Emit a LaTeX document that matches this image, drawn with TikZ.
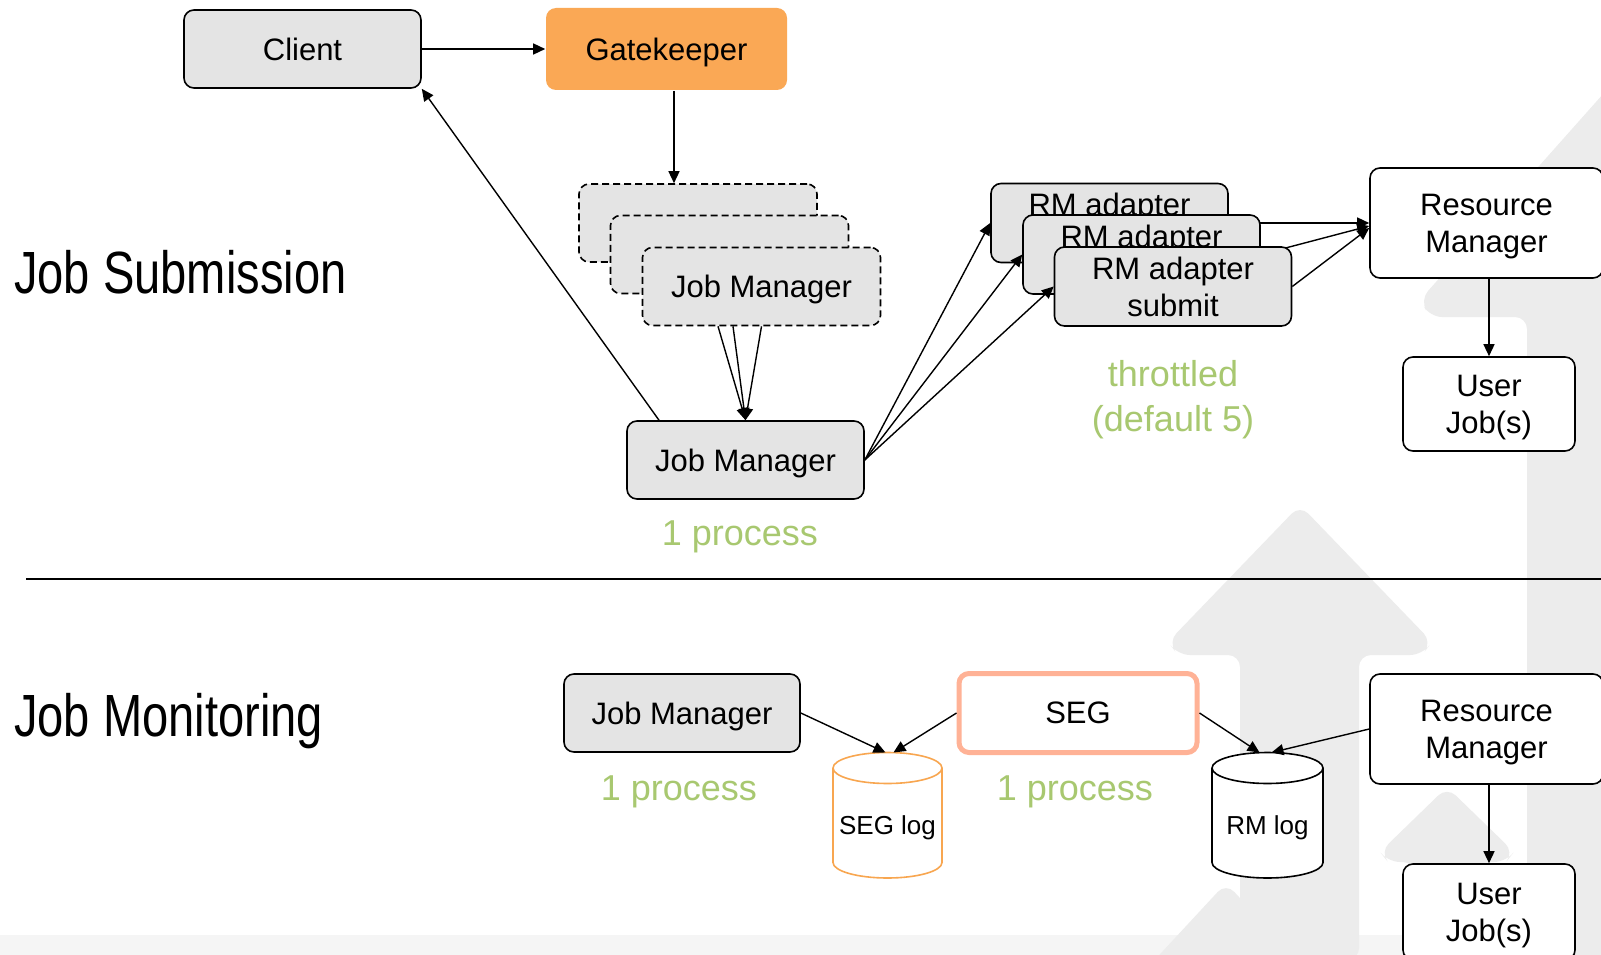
\documentclass[tikz,border=0pt]{standalone}
\usepackage{graphicx}
\usepackage{fontspec}
\setmainfont{Liberation Sans}
\usetikzlibrary{arrows.meta}

\definecolor{boxgray}{RGB}{228,228,228}
\definecolor{gkorange}{RGB}{250,168,85}
\definecolor{procgreen}{RGB}{168,200,112}
\definecolor{segsalmon}{RGB}{255,178,150}
\definecolor{logorange}{RGB}{248,166,80}
\definecolor{markgray}{RGB}{236,236,236}
\definecolor{footgray}{RGB}{245,245,245}

\newcommand{\fsz}[2]{\fontsize{#1}{#2}\selectfont}

\begin{document}
\begin{tikzpicture}[x=1pt,y=-1pt,
  procbox/.style={draw=black, line width=1.6pt, rounded corners=10pt, align=center,
                  inner sep=0pt, text depth=-4pt, font=\fsz{31}{37}},
  graybox/.style={procbox, fill=boxgray},
  whitebox/.style={procbox, fill=white},
  dashbox/.style={graybox, dash pattern=on 7pt off 4pt},
  conn/.style={line width=1.4pt, -{Triangle[length=12pt,width=11pt]}},
  greennote/.style={text=procgreen, font=\fsz{36}{45}, inner sep=0pt, align=center},
  heading/.style={font=\fsz{59.6}{70}, inner sep=0pt, anchor=base west},
  logtext/.style={font=\fsz{26}{30}, inner sep=0pt, text depth=0pt},
  backmark/.style={fill=markgray, rounded corners=12pt}
]
\useasboundingbox (0,0) rectangle (1601,955);
\fill[white] (0,0) rectangle (1601,955);

% slide background: footer band and faint upward arrows
\begin{scope}
  \clip (0,0) rectangle (1601,955);
  \fill[footgray] (0,935) rectangle (1601,955);
  \fill[backmark] (1660,30) -- (1420,300) -- (1430,317) -- (1527,317) -- (1527,960)
        -- (1660,960) -- cycle;
  \fill[backmark] (1300,505) -- (1168,642) -- (1178,655) -- (1240,655) -- (1240,960)
        -- (1359,960) -- (1359,655) -- (1422,655) -- (1432,642) -- cycle;
  \fill[backmark] (1447,787) -- (1380,852) -- (1388,862) -- (1415,862) -- (1415,960)
        -- (1480,960) -- (1480,862) -- (1506,862) -- (1514,852) -- cycle;
  \fill[backmark] (1226,883) -- (1150,965) -- (1302,965) -- cycle;
\end{scope}

% section headings and divider
\node[heading] (sub) at (14,293) {\scalebox{0.79}[1]{Job Submission}};
\node[heading] (mon) at (14,736) {\scalebox{0.79}[1]{Job Monitoring}};
\draw[line width=2.2pt] (26,579) -- (1601,579);

% ---------------- job submission ----------------
\node[graybox, minimum width=237pt, minimum height=78pt] (client) at (302.5,49) {Client};
\node[procbox, draw=none, fill=gkorange, minimum width=241pt, minimum height=82pt]
      (gate) at (666.5,49) {Gatekeeper};
\draw[conn] (client.east) -- (gate.west);

\node[dashbox, minimum width=238pt, minimum height=78pt] (jmA) at (698,223) {};
\node[dashbox, minimum width=238pt, minimum height=78pt] (jmB) at (729.5,254.5) {};
\node[dashbox, minimum width=238pt, minimum height=78pt] (jmC) at (761.5,286.5) {Job Manager};
\draw[conn] ([xshift=7.5pt]gate.south) -- ([xshift=7.5pt]gate.south |- jmA.north);

\node[graybox, minimum width=237pt, minimum height=78pt] (jm) at (745.5,460) {Job Manager};
\draw[conn] ([xshift=-43.5pt]jmC.south) -- (jm.north);
\draw[conn] ([xshift=-28.5pt]jmC.south) -- (jm.north);
\draw[conn] (jmC.south) -- (jm.north);
\draw[conn] ([xshift=-86.5pt]jm.north) -- (client.south east);
\node[greennote, anchor=base] (jmproc) at (740,545) {1 process};

\node[whitebox, minimum width=233pt, minimum height=110pt] (rm) at (1486.5,223) {Resource\\Manager};
\node[whitebox, minimum width=172pt, minimum height=94pt] (uj) at (1489,404) {User\\Job(s)};
\draw[conn] (rm.south -| uj.north) -- (uj.north);

\node[graybox, minimum width=237pt, minimum height=79pt] (ra1) at (1109.5,223) {RM adapter\\submit};
\draw[conn] (ra1.east) -- (rm.west);
\node[graybox, minimum width=237pt, minimum height=79pt] (ra2) at (1141.5,254.5) {RM adapter\\submit};
\draw[conn] (ra2.east) -- ([yshift=-3pt]rm.west);
\node[graybox, minimum width=237pt, minimum height=79pt] (ra3) at (1173,286.5) {RM adapter\\submit};
\draw[conn] (ra3.east) -- ([yshift=-5pt]rm.west);

\draw[conn] (jm.east) -- (ra1.west);
\draw[conn] (jm.east) -- (ra2.west);
\draw[conn] (jm.east) -- (ra3.west);
\node[greennote] (thr) at (1173,400) {throttled\\(default 5)};

% ---------------- job monitoring ----------------
\node[graybox, minimum width=236pt, minimum height=78pt] (jm2) at (682,713) {Job Manager};
\node[whitebox, draw=segsalmon, line width=5pt, minimum width=238pt, minimum height=79pt]
      (seg) at (1078,713) {SEG};
\node[whitebox, minimum width=233pt, minimum height=110pt] (rm2) at (1486.5,729) {Resource\\Manager};
\node[whitebox, minimum width=172pt, minimum height=96pt] (uj2) at (1489,912) {User\\Job(s)};
\draw[conn] (rm2.south -| uj2.north) -- (uj2.north);

\node[greennote, anchor=base] (jm2proc) at (679,800) {1 process};
\node[greennote, anchor=base] (segproc) at (1075,800) {1 process};

% log files as cylinders
\filldraw[draw=logorange, fill=white, line width=1.6pt]
  (833,768) -- (833,862.5) arc[start angle=180, end angle=360, x radius=54.5pt, y radius=15.5pt]
  -- (942,768) arc[start angle=0, end angle=180, x radius=54.5pt, y radius=15.5pt] -- cycle;
\draw[logorange, line width=1.6pt]
  (833,768) arc[start angle=180, end angle=360, x radius=54.5pt, y radius=15.5pt];
\node[logtext] (seglog) at (887.5,825) {SEG log};
\coordinate (seglogtop) at (887.5,752.5);

\filldraw[draw=black, fill=white, line width=1.6pt]
  (1212,768) -- (1212,862.5) arc[start angle=180, end angle=360, x radius=55.5pt, y radius=15.5pt]
  -- (1323,768) arc[start angle=0, end angle=180, x radius=55.5pt, y radius=15.5pt] -- cycle;
\draw[black, line width=1.6pt]
  (1212,768) arc[start angle=180, end angle=360, x radius=55.5pt, y radius=15.5pt];
\node[logtext] (rmlog) at (1267.5,825) {RM log};
\coordinate (rmlogtop) at (1267.5,752.5);

\draw[conn] (jm2.east) -- ([xshift=-2pt]seglogtop);
\draw[conn] (seg.west) -- ([xshift=6pt]seglogtop);
\draw[conn] (seg.east) -- ([xshift=-8pt]rmlogtop);
\draw[conn] (rm2.west) -- ([xshift=4pt]rmlogtop);
\end{tikzpicture}
\end{document}
